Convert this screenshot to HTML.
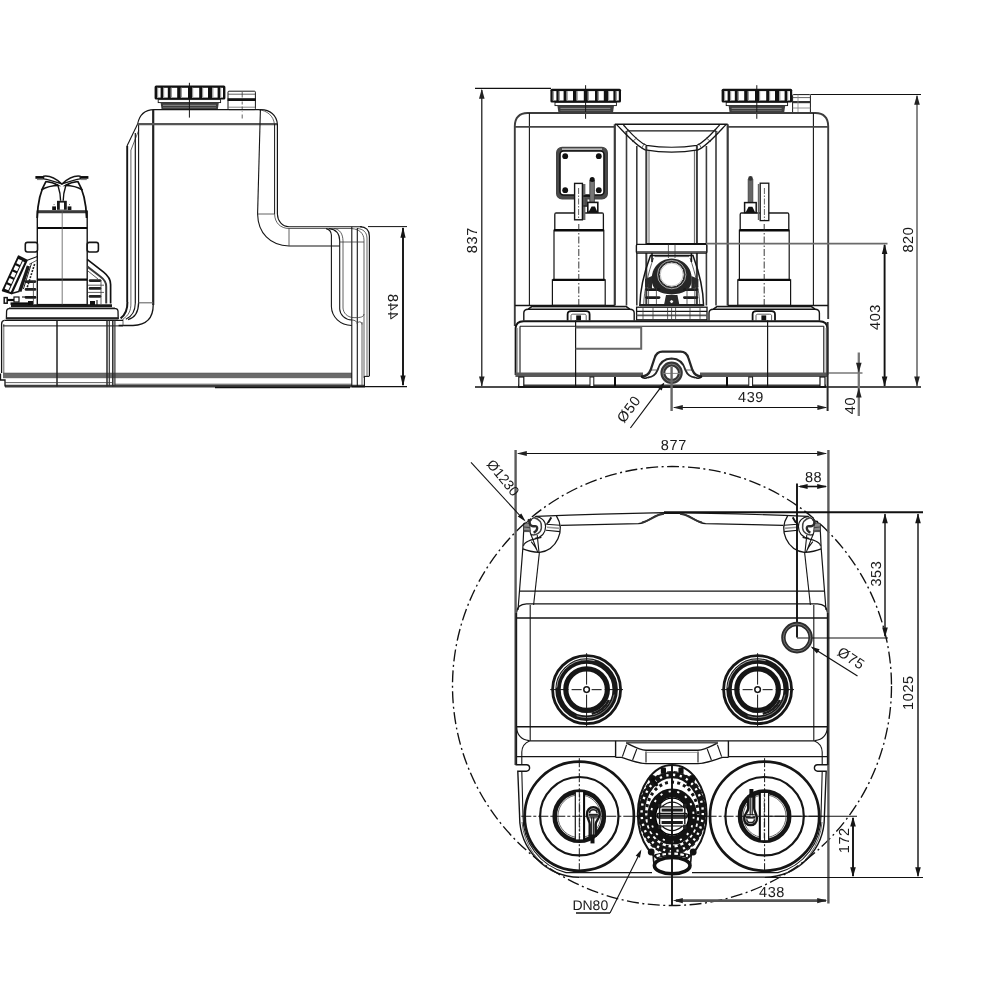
<!DOCTYPE html>
<html><head><meta charset="utf-8"><title>Dimension drawing</title>
<style>
html,body{margin:0;padding:0;background:#fff;}
body{width:1000px;height:1000px;overflow:hidden;font-family:"Liberation Sans",sans-serif;}
svg{display:block;filter:grayscale(1);}
.k{stroke:#151515;stroke-width:1.1;fill:none;}
.t{stroke:#3a3a3a;stroke-width:0.8;fill:none;}
.b{stroke:#0a0a0a;stroke-width:2;fill:none;}
.m{stroke:#111;stroke-width:1.5;fill:none;}
.g{stroke:#5e5e5e;stroke-width:2.2;fill:none;}
.gl{stroke:#777;stroke-width:1.2;fill:none;}
.d{stroke:#111;stroke-width:1.1;fill:none;}
.cl{stroke:#222;stroke-width:0.9;fill:none;stroke-dasharray:7 2 1.5 2;}
.w{fill:#fff;stroke:#151515;stroke-width:1.1;}
.f{fill:#111;stroke:none;}
text{font-family:"Liberation Sans",sans-serif;font-size:14.5px;fill:#1a1a1a;letter-spacing:0.6px;text-rendering:geometricPrecision;}
</style></head><body>
<svg width="1000" height="1000" viewBox="0 0 1000 1000">
<rect width="1000" height="1000" fill="#fff"/>
<g id="side">
<rect class="f" x="3" y="373.2" width="349" height="5" rx="0" style="fill:#6a6a6a"/>
<line class="t" x1="3" y1="373.2" x2="352" y2="373.2" style="stroke:#444;stroke-width:0.8"/>
<line class="b" x1="5" y1="386.2" x2="365" y2="386.2" style="stroke-width:2.8;stroke:#3c3c3c"/>
<line class="t" x1="115" y1="384.2" x2="352" y2="384.2" />
<line class="m" x1="215" y1="387.6" x2="350" y2="387.6" />
<rect class="f" x="154.6" y="85.4" width="70.8" height="14.2" rx="1.5" />
<rect x="157" y="87.8" width="3.6" height="9.8" fill="#fff"/>
<rect x="157" y="87.8" width="1.2" height="9.8" fill="#999"/>
<rect x="163" y="87.8" width="4.8" height="9.8" fill="#fff"/>
<rect x="163" y="87.8" width="1.2" height="9.8" fill="#999"/>
<rect x="170.8" y="87.8" width="6.4" height="9.8" fill="#fff"/>
<rect x="170.8" y="87.8" width="1.2" height="9.8" fill="#999"/>
<rect x="180.8" y="87.8" width="7.2" height="9.8" fill="#fff"/>
<rect x="180.8" y="87.8" width="1.2" height="9.8" fill="#999"/>
<rect x="192" y="87.8" width="7.2" height="9.8" fill="#fff"/>
<rect x="192" y="87.8" width="1.2" height="9.8" fill="#999"/>
<rect x="202" y="87.8" width="6.0" height="9.8" fill="#fff"/>
<rect x="202" y="87.8" width="1.2" height="9.8" fill="#999"/>
<rect x="212.2" y="87.8" width="5.4" height="9.8" fill="#fff"/>
<rect x="212.2" y="87.8" width="1.2" height="9.8" fill="#999"/>
<rect x="220" y="87.8" width="3.0" height="9.8" fill="#fff"/>
<rect x="220" y="87.8" width="1.2" height="9.8" fill="#999"/>
<rect class="w" x="158.2" y="99.6" width="62.4" height="3" rx="0" style="stroke-width:0.9"/>
<path d="M160.6,102.8 L218.8,102.8 L217.8,109.4 L161.6,109.4 Z" fill="#3c3c3c"/>
<line class="gl" x1="163" y1="105.3" x2="216" y2="105.3" style="stroke:#9a9a9a;stroke-width:0.9"/>
<line class="gl" x1="163" y1="107.6" x2="216" y2="107.6" style="stroke:#777;stroke-width:0.7"/>
<line class="k" x1="189.4" y1="82.8" x2="189.4" y2="117.6" style="stroke-width:1"/>
<rect class="w" x="228" y="91.2" width="27.4" height="18.4" rx="1" style="stroke-width:1"/>
<line class="t" x1="228" y1="94.2" x2="255.4" y2="94.2" />
<rect class="f" x="227.6" y="98.2" width="28.2" height="2.8" rx="0" />
<line class="t" x1="228" y1="107.2" x2="255.4" y2="107.2" style="stroke:#666"/>
<line class="t" x1="242.2" y1="92" x2="242.2" y2="97.5" />
<line class="t" x1="242.2" y1="101.5" x2="242.2" y2="112" stroke-dasharray="3 2"/>
<line class="t" x1="242.2" y1="114.5" x2="242.2" y2="118.5" />
<line class="k" x1="153" y1="109.6" x2="261" y2="109.6" style="stroke-width:1.3"/>
<path class="k" d="M154,109.6 C145,109.8 139.5,114 137.6,124" />
<path class="k" d="M137.6,124 L127,146" />
<path class="t" d="M138.8,130 L131,150" />
<line class="k" x1="127.2" y1="146" x2="127.2" y2="302" style="stroke-width:1.9"/>
<line class="t" x1="130.9" y1="150" x2="130.9" y2="303" />
<line class="k" x1="135.3" y1="133" x2="135.3" y2="303" style="stroke-width:1.2"/>
<line class="k" x1="138.6" y1="124" x2="138.6" y2="303" />
<line class="k" x1="153.2" y1="109.6" x2="153.2" y2="305" style="stroke-width:2.2;stroke:#222"/>
<line class="g" x1="137.6" y1="124.2" x2="277" y2="124.2" style="stroke-width:2.3;stroke:#555"/>
<path class="k" d="M261,109.6 C270,109.8 276.5,115 277.4,124" />
<path class="t" d="M259,109.8 C267,110.5 273.6,116 274.4,124" />
<line class="k" x1="277.4" y1="124" x2="277.4" y2="214" style="stroke-width:1.2"/>
<line class="k" x1="274.6" y1="124" x2="274.6" y2="214" style="stroke-width:1"/>
<path class="k" d="M260.4,109.6 L257.6,214" />
<line class="t" x1="257.6" y1="214" x2="274.6" y2="214" />
<path class="k" d="M277.4,214 C277.6,221 282,226.4 289,226.7 L362,226.7" />
<path class="t" d="M274.6,214 C274.8,223 280.5,228.3 289,228.5 L352,228.5" />
<path class="k" d="M257.6,214 C258,233 270,245.6 289,246 L339.7,246" />
<line class="t" x1="289" y1="228.5" x2="289" y2="246" />
<path class="k" d="M360,226.7 C366,226.9 369.2,229.5 369.4,236 L369.4,376" style="stroke-width:1.2"/>
<path class="t" d="M357.3,228.5 C363,229 366.8,232 367,238 L367,376" />
<path class="t" d="M352,228.6 C359,229.2 363.8,233 364,240 L364,378" />
<line class="k" x1="351.8" y1="226.7" x2="351.8" y2="386.6" />
<line class="k" x1="357.3" y1="228" x2="357.3" y2="386.6" />
<line class="t" x1="362" y1="322" x2="362" y2="386.6" />
<line class="k" x1="364.4" y1="376" x2="364.4" y2="386.6" />
<path class="k" d="M364.4,376.4 L369.4,376.4" />
<path class="k" d="M329,228.6 C336,229.2 339.5,233.4 339.7,240.8 L339.7,309 C340,315 345,319.6 351.8,320" />
<path class="t" d="M334,228.6 C340,229.2 342.8,234 343,240.8 L343,308 C343.4,313 347,317 353,317.6" />
<path class="k" d="M326,228.6 C329.6,229.4 331.2,231.6 331.4,235 L331.4,306.8 C331.8,317 340,325 351.8,325.5" />
<line class="t" x1="339.7" y1="242" x2="364" y2="242" />
<path class="t" d="M351.8,320 C355,320 357.3,321.5 357.3,324" />
<path class="t" d="M357.3,324 C357.5,321 362,321 362,324.5" />
<path class="t" d="M353,317.6 C358,317.6 363.6,318 364,314" />
<path class="k" d="M153.2,305 C153.2,318 146,325 133,325.5 L118.6,325.5" style="stroke-width:1.3"/>
<path class="k" d="M127.4,302 C127.6,310 125,315 120.6,318.4" style="stroke-width:2"/>
<path class="t" d="M130.9,303 C131.2,311 128,316 123.2,318.8" />
<path class="k" d="M135.3,303 C135.2,312 131,317 125.8,319.2" />
<path class="k" d="M138.6,303 C138.4,313 134,318 128,319.6" style="stroke-width:1.3"/>
<line class="gl" x1="138.6" y1="302.8" x2="153.2" y2="302.8" style="stroke:#666;stroke-width:1.1"/>
<line class="t" x1="123" y1="319" x2="123" y2="325.7" />
<path class="k" d="M4.5,320.4 L123,320.4" style="stroke-width:1.3"/>
<path class="k" d="M4.5,320.4 C2.6,320.6 1.6,321.8 1.6,324 L1.6,373" style="stroke-width:1.3"/>
<line class="t" x1="3.8" y1="324" x2="3.8" y2="373" />
<line class="k" x1="57" y1="320.4" x2="57" y2="386.6" style="stroke-width:1.5;stroke:#222"/>
<line class="k" x1="3" y1="325.9" x2="123" y2="325.9" style="stroke-width:1"/>
<line class="k" x1="107" y1="320.4" x2="107" y2="386.6" style="stroke-width:1.5;stroke:#2a2a2a"/>
<line class="k" x1="109.3" y1="320.4" x2="109.3" y2="386.6" style="stroke-width:1.2;stroke:#333"/>
<line class="k" x1="112.8" y1="320.4" x2="112.8" y2="386.6" style="stroke-width:1.5;stroke:#2a2a2a"/>
<line class="k" x1="114.9" y1="320.4" x2="114.9" y2="386.6" style="stroke-width:1.2;stroke:#333"/>
<path class="k" d="M0.5,373.6 L0.5,380 L5,380 L5,386.6" style="stroke-width:1.3"/>
<line class="t" x1="5" y1="382.6" x2="113" y2="382.6" />
<path class="w" d="M6.4,318.4 L6.6,311 C6.8,309.4 7.6,308.6 9,308.6 L115.6,308.6 C117,308.6 117.8,309.4 118,311 L118.2,318.4 Z" style="stroke-width:1.3"/>
<line class="b" x1="6.2" y1="318.4" x2="118.4" y2="318.4" style="stroke-width:2.2;stroke:#222"/>
<line class="b" x1="11" y1="305.6" x2="112" y2="305.6" style="stroke-width:2.6;stroke:#1a1a1a"/>
<line class="t" x1="9" y1="307.8" x2="115" y2="307.8" />
<rect class="w" x="37.3" y="211.2" width="49.9" height="93.4" rx="0" style="stroke-width:1.4"/>
<line class="g" x1="37.3" y1="211.9" x2="87.2" y2="211.9" style="stroke-width:2.8;stroke:#3a3a3a"/>
<line class="b" x1="37.3" y1="228" x2="87.2" y2="228" style="stroke-width:2"/>
<line class="b" x1="37.3" y1="279.6" x2="87.2" y2="279.6" style="stroke-width:2.4"/>
<line class="t" x1="62.2" y1="211" x2="62.2" y2="304.6" style="stroke:#555"/>
<path class="m" d="M37.2,218 C37.6,205 39.5,192 46.0,181.4" style="stroke-width:1.8"/>
<line class="b" x1="35.4" y1="177.4" x2="44.4" y2="177.4" style="stroke-width:2.7;stroke-linecap:butt"/>
<line class="t" x1="37" y1="179.6" x2="43" y2="179.6" style="stroke:#777;stroke-width:1"/>
<path class="w" d="M43.6,176.2 C49.0,175.4 56.0,178.6 61.9,184 C57.0,182.4 50.0,179.8 43.6,178.9 Z" style="stroke-width:1.4;stroke-linejoin:round"/>
<path class="m" d="M45.6,181.6 C50.0,181.8 55.0,183.4 58.6,185.6 C52.0,185.6 45.6,187.4 41.2,190 " style="stroke-width:1.5"/>
<path class="m" d="M58.0,186 C59.0,189 60.4,192 60.6,200.8" style="stroke-width:1.4"/>
<path class="m" d="M86.6,218 C86.2,205 84.3,192 77.8,181.4" style="stroke-width:1.8"/>
<line class="b" x1="88.4" y1="177.4" x2="79.4" y2="177.4" style="stroke-width:2.7;stroke-linecap:butt"/>
<line class="t" x1="86.8" y1="179.6" x2="80.8" y2="179.6" style="stroke:#777;stroke-width:1"/>
<path class="w" d="M80.2,176.2 C74.8,175.4 67.8,178.6 61.9,184 C66.8,182.4 73.8,179.8 80.2,178.9 Z" style="stroke-width:1.4;stroke-linejoin:round"/>
<path class="m" d="M78.2,181.6 C73.8,181.8 68.8,183.4 65.2,185.6 C71.8,185.6 78.2,187.4 82.6,190 " style="stroke-width:1.5"/>
<path class="m" d="M65.8,186 C64.8,189 63.4,192 63.2,200.8" style="stroke-width:1.4"/>
<rect class="f" x="57" y="200.8" width="9.8" height="9" rx="0" style="fill:#1a1a1a"/>
<rect class="f" x="59.8" y="202.6" width="4.2" height="7" rx="0" style="fill:#fff"/>
<rect class="f" x="52.2" y="206.4" width="3.8" height="3.6" rx="0" />
<rect class="f" x="67.6" y="206.4" width="3.8" height="3.6" rx="0" />
<line class="t" x1="53.6" y1="204.6" x2="54.6" y2="204.6" />
<line class="t" x1="69" y1="204.6" x2="70" y2="204.6" />
<rect class="w" x="25.3" y="242.4" width="12.2" height="9.6" rx="2.2" style="stroke-width:1.6"/>
<rect class="w" x="87.2" y="242.4" width="11.2" height="9.6" rx="2.2" style="stroke-width:1.6"/>
<path class="m" d="M87.2,259.4 L103.6,272.2 C108.4,276 110.6,279.6 110.6,284.4 L110.6,303.6" style="stroke-width:1.7"/>
<path class="m" d="M87.4,266.6 L100.6,276.8 C104.6,279.8 106.2,282.6 106.2,286.4 L106.2,303.6" style="stroke-width:2;stroke:#3a3a3a"/>
<path class="t" d="M87.4,270.6 L98,279" />
<line class="b" x1="90" y1="280.6" x2="100" y2="280.6" style="stroke-width:2.6;stroke-linecap:round;stroke:#222"/>
<line class="b" x1="26" y1="281.6" x2="35" y2="281.6" style="stroke-width:2.6;stroke-linecap:round;stroke:#222"/>
<line class="b" x1="90" y1="288.4" x2="100" y2="288.4" style="stroke-width:2.6;stroke-linecap:round;stroke:#222"/>
<line class="b" x1="26" y1="289.4" x2="35" y2="289.4" style="stroke-width:2.6;stroke-linecap:round;stroke:#222"/>
<line class="b" x1="90" y1="296.4" x2="100" y2="296.4" style="stroke-width:2.6;stroke-linecap:round;stroke:#222"/>
<line class="b" x1="26" y1="297.4" x2="35" y2="297.4" style="stroke-width:2.6;stroke-linecap:round;stroke:#222"/>
<line class="t" x1="88" y1="285.2" x2="104" y2="285.2" />
<line class="t" x1="88" y1="292.4" x2="104" y2="292.4" />
<line class="t" x1="101" y1="280" x2="101" y2="304" />
<line class="k" x1="97" y1="300" x2="97" y2="305" />
<rect class="f" x="90" y="301" width="5" height="4" rx="0" />
<rect class="f" x="28" y="301" width="5" height="4" rx="0" />
<line class="t" x1="33.4" y1="281" x2="33.4" y2="304" />
<path class="w" d="M18.6,256.3 L26.6,260.5 L11.6,293.4 L2.8,290.6 Z" style="stroke-width:2;stroke-linejoin:round;stroke:#111;fill:#111"/>
<rect x="17.24" y="259.52" width="4" height="4.8" fill="#fff" transform="rotate(24.7 19.24 261.82)"/>
<rect x="14.31" y="265.88" width="4" height="4.8" fill="#fff" transform="rotate(24.7 16.31 268.18)"/>
<rect x="11.39" y="272.24" width="4" height="4.8" fill="#fff" transform="rotate(24.7 13.39 274.54)"/>
<rect x="8.46" y="278.60" width="4" height="4.8" fill="#fff" transform="rotate(24.7 10.46 280.90)"/>
<rect x="5.53" y="284.95" width="4" height="4.8" fill="#fff" transform="rotate(24.7 7.53 287.25)"/>
<line x1="23.66" y1="261.78" x2="9.90" y2="291.65" stroke="#fff" stroke-width="2"/>
<line class="b" x1="28.4" y1="266" x2="19.8" y2="291.4" style="stroke-width:3.4;stroke:#1a1a1a"/>
<line class="t" x1="31.6" y1="263" x2="23.4" y2="289" style="stroke:#222;stroke-width:1"/>
<line class="t" x1="34.6" y1="264" x2="26.4" y2="290" stroke-dasharray="2 1.2" style="stroke:#222;stroke-width:1.6"/>
<line class="k" x1="26.6" y1="260.5" x2="37.4" y2="256.6" />
<line class="t" x1="29" y1="264.4" x2="37.4" y2="260" />
<path class="k" d="M11.6,293.4 L19.6,291.3" style="stroke-width:1.6"/>
<rect class="w" x="4.2" y="297.6" width="3" height="5.6" rx="0" style="stroke-width:1.5"/>
<rect class="w" x="14" y="297" width="5" height="5" rx="0" style="stroke-width:1.2"/>
<line class="b" x1="7.2" y1="300" x2="14" y2="300" style="stroke-width:2.2"/>
<line class="b" x1="10.5" y1="303.6" x2="30" y2="303.6" style="stroke-width:2.4"/>
<line class="k" x1="22" y1="297" x2="36" y2="297" />
</g>
<g id="front">
<line class="g" x1="518" y1="386.2" x2="826" y2="386.2" style="stroke-width:3.4;stroke:#3a3a3a"/>
<rect class="f" x="550.4" y="88.8" width="70.6" height="13.6" rx="1.5" />
<rect x="552.8" y="91.1" width="3.6" height="9.4" fill="#fff"/>
<rect x="552.8" y="91.1" width="1.2" height="9.4" fill="#999"/>
<rect x="558.8" y="91.1" width="4.8" height="9.4" fill="#fff"/>
<rect x="558.8" y="91.1" width="1.2" height="9.4" fill="#999"/>
<rect x="566.6" y="91.1" width="6.4" height="9.4" fill="#fff"/>
<rect x="566.6" y="91.1" width="1.2" height="9.4" fill="#999"/>
<rect x="576.6" y="91.1" width="7.2" height="9.4" fill="#fff"/>
<rect x="576.6" y="91.1" width="1.2" height="9.4" fill="#999"/>
<rect x="587.8" y="91.1" width="7.2" height="9.4" fill="#fff"/>
<rect x="587.8" y="91.1" width="1.2" height="9.4" fill="#999"/>
<rect x="597.8" y="91.1" width="6.0" height="9.4" fill="#fff"/>
<rect x="597.8" y="91.1" width="1.2" height="9.4" fill="#999"/>
<rect x="608.0" y="91.1" width="5.4" height="9.4" fill="#fff"/>
<rect x="608.0" y="91.1" width="1.2" height="9.4" fill="#999"/>
<rect x="615.8" y="91.1" width="3.0" height="9.4" fill="#fff"/>
<rect x="615.8" y="91.1" width="1.2" height="9.4" fill="#999"/>
<rect class="w" x="555.0" y="102.39999999999999" width="61.4" height="3.2" rx="0" style="stroke-width:0.9"/>
<path d="M557.4,105.8 L614.0,105.8 L613.0,112.6 L558.4,112.6 Z" fill="#3c3c3c"/>
<line class="gl" x1="560.4" y1="108.4" x2="610.4" y2="108.4" style="stroke:#9a9a9a;stroke-width:0.9"/>
<line class="gl" x1="560.4" y1="110.6" x2="610.4" y2="110.6" style="stroke:#777;stroke-width:0.7"/>
<line class="k" x1="585.6" y1="85.2" x2="585.6" y2="118.8" style="stroke-width:1"/>
<rect class="f" x="721.6" y="88.8" width="70.6" height="13.6" rx="1.5" />
<rect x="724.0" y="91.1" width="3.6" height="9.4" fill="#fff"/>
<rect x="724.0" y="91.1" width="1.2" height="9.4" fill="#999"/>
<rect x="730.0" y="91.1" width="4.8" height="9.4" fill="#fff"/>
<rect x="730.0" y="91.1" width="1.2" height="9.4" fill="#999"/>
<rect x="737.8" y="91.1" width="6.4" height="9.4" fill="#fff"/>
<rect x="737.8" y="91.1" width="1.2" height="9.4" fill="#999"/>
<rect x="747.8" y="91.1" width="7.2" height="9.4" fill="#fff"/>
<rect x="747.8" y="91.1" width="1.2" height="9.4" fill="#999"/>
<rect x="759.0" y="91.1" width="7.2" height="9.4" fill="#fff"/>
<rect x="759.0" y="91.1" width="1.2" height="9.4" fill="#999"/>
<rect x="769.0" y="91.1" width="6.0" height="9.4" fill="#fff"/>
<rect x="769.0" y="91.1" width="1.2" height="9.4" fill="#999"/>
<rect x="779.2" y="91.1" width="5.4" height="9.4" fill="#fff"/>
<rect x="779.2" y="91.1" width="1.2" height="9.4" fill="#999"/>
<rect x="787.0" y="91.1" width="3.0" height="9.4" fill="#fff"/>
<rect x="787.0" y="91.1" width="1.2" height="9.4" fill="#999"/>
<rect class="w" x="726.2" y="102.39999999999999" width="61.4" height="3.2" rx="0" style="stroke-width:0.9"/>
<path d="M728.6,105.8 L785.2,105.8 L784.2,112.6 L729.6,112.6 Z" fill="#3c3c3c"/>
<line class="gl" x1="731.6" y1="108.4" x2="781.6" y2="108.4" style="stroke:#9a9a9a;stroke-width:0.9"/>
<line class="gl" x1="731.6" y1="110.6" x2="781.6" y2="110.6" style="stroke:#777;stroke-width:0.7"/>
<line class="k" x1="756.8000000000001" y1="85.2" x2="756.8000000000001" y2="118.8" style="stroke-width:1"/>
<rect class="w" x="792.6" y="94.6" width="17.8" height="18.2" rx="0.8" style="stroke-width:1"/>
<line class="t" x1="792.6" y1="97.6" x2="810.4" y2="97.6" />
<rect class="f" x="792.4" y="101" width="18.2" height="2.2" rx="0" style="fill:#333"/>
<line class="t" x1="792.6" y1="108" x2="810.4" y2="108" style="stroke:#777"/>
<line class="t" x1="798" y1="94.6" x2="798" y2="112.6" style="stroke:#888"/>
<path class="k" d="M514.8,326 L514.8,126 C515,118 519.5,113.2 527.6,113 L815.4,113 C823.5,113.2 828,118 828.2,126 L828.2,319" style="stroke-width:1.9;stroke:#3c3c3c"/>
<line class="k" x1="529.4" y1="113" x2="529.4" y2="306" />
<line class="k" x1="813.4" y1="113" x2="813.4" y2="306" />
<line class="k" x1="514.6" y1="126.8" x2="615" y2="126.8" style="stroke-width:1.7;stroke:#444"/>
<line class="k" x1="727.6" y1="126.8" x2="828.4" y2="126.8" style="stroke-width:1.7;stroke:#444"/>
<line class="k" x1="614.8" y1="124.3" x2="614.8" y2="305.5" style="stroke-width:2.2;stroke:#3a3a3a"/>
<line class="k" x1="626.5" y1="131" x2="626.5" y2="305.5" style="stroke-width:1.6;stroke:#3a3a3a"/>
<line class="k" x1="636.8" y1="146" x2="636.8" y2="305.5" style="stroke-width:1.6;stroke:#3a3a3a"/>
<line class="k" x1="646.3" y1="146" x2="646.3" y2="305.5" style="stroke-width:2;stroke:#3a3a3a"/>
<line class="k" x1="696.9" y1="146" x2="696.9" y2="305.5" style="stroke-width:2;stroke:#3a3a3a"/>
<line class="k" x1="706.4" y1="146" x2="706.4" y2="305.5" style="stroke-width:1.6;stroke:#3a3a3a"/>
<line class="k" x1="716" y1="131" x2="716" y2="305.5" style="stroke-width:1.6;stroke:#3a3a3a"/>
<line class="k" x1="727.7" y1="124.3" x2="727.7" y2="305.5" style="stroke-width:2.2;stroke:#3a3a3a"/>
<line class="t" x1="649" y1="150" x2="649" y2="244" />
<line class="t" x1="694.4" y1="150" x2="694.4" y2="244" />
<line class="k" x1="614.8" y1="124.3" x2="727.7" y2="124.3" style="stroke-width:1.6"/>
<line class="k" x1="627" y1="130.9" x2="716" y2="130.9" />
<path class="k" d="M616.6,124.6 C625,133 636,146 645.2,149.8 Q671.6,154.4 698,149.8 C707,146 718,133 726,124.6" style="stroke-width:1.3"/>
<path class="k" d="M623.4,125 C630,132 638,142 646.3,145.3 Q671.6,149.2 697,145.3 C705,142 713,132 719.6,125" style="stroke-width:1.2"/>
<line class="t" x1="624" y1="133" x2="629" y2="129.6" />
<line class="t" x1="632" y1="142" x2="637" y2="137.6" />
<line class="t" x1="641.6" y1="148.4" x2="644.4" y2="143.4" />
<line class="t" x1="719" y1="133" x2="714" y2="129.6" />
<line class="t" x1="711" y1="142" x2="706" y2="137.6" />
<line class="t" x1="701.6" y1="148.4" x2="698.8" y2="143.4" />
<rect class="w" x="636.4" y="244.4" width="70.4" height="8.6" rx="1" style="stroke-width:1.4"/>
<line class="gl" x1="637" y1="251.6" x2="706" y2="251.6" style="stroke:#666"/>
<line class="t" x1="668.4" y1="244.4" x2="668.4" y2="258" />
<line class="t" x1="675" y1="244.4" x2="675" y2="258" />
<path class="k" d="M639.8,306 C640,290 645,270 650.5,255.4 L693,255.4 C698.4,270 703.4,290 703.6,306" style="stroke-width:1.5"/>
<path class="t" d="M643.6,306 C644,290 648.5,272 653.5,258" />
<path class="t" d="M699.8,306 C699.4,290 695,272 690,258" />
<line class="k" x1="652" y1="253" x2="652" y2="262" style="stroke-width:1.6"/>
<line class="k" x1="691.4" y1="253" x2="691.4" y2="262" style="stroke-width:1.6"/>
<line class="t" x1="654.6" y1="256.6" x2="689" y2="256.6" />
<path class="f" d="M652,283 C650,270 658,259 671.7,258.6 C685.4,259 693.4,270 691.4,283 C690,290 683,294 671.7,294.4 C660.4,294 653.4,290 652,283 Z" style="fill:#262626"/>
<circle class="w" cx="671.7" cy="274.6" r="12.6" style="stroke:#222;stroke-width:1"/>
<circle class="k" cx="671.7" cy="274.6" r="14.2" style="stroke:#ddd;stroke-width:0.7"/>
<circle class="t" cx="671.7" cy="274.6" r="11.4" style="stroke:#999;stroke-width:0.6"/>
<path class="f" d="M645,279 L652,276 L652,289 L645,287 Z" style="fill:#2a2a2a"/>
<path class="f" d="M698.4,279 L691.4,276 L691.4,289 L698.4,287 Z" style="fill:#2a2a2a"/>
<line class="b" x1="646.6" y1="289.6" x2="659" y2="289.6" style="stroke-width:2.8;stroke-linecap:round;stroke:#1c1c1c"/>
<line class="b" x1="684.4" y1="289.6" x2="696.8" y2="289.6" style="stroke-width:2.8;stroke-linecap:round;stroke:#1c1c1c"/>
<line class="b" x1="646.6" y1="297.6" x2="659" y2="297.6" style="stroke-width:2.8;stroke-linecap:round;stroke:#1c1c1c"/>
<line class="b" x1="684.4" y1="297.6" x2="696.8" y2="297.6" style="stroke-width:2.8;stroke-linecap:round;stroke:#1c1c1c"/>
<line class="t" x1="648.6" y1="284" x2="648.6" y2="305" />
<line class="t" x1="656.4" y1="288" x2="656.4" y2="305" />
<line class="t" x1="687" y1="288" x2="687" y2="305" />
<line class="t" x1="694.8" y1="284" x2="694.8" y2="305" />
<path class="f" d="M664,305 L666,295 L677.4,295 L679.4,305 Z" style="fill:#2a2a2a"/>
<circle class="w" cx="671.6" cy="301.6" r="1.9" style="stroke-width:0.8"/>
<line class="b" x1="640" y1="305.2" x2="703.4" y2="305.2" style="stroke-width:2.2;stroke:#222"/>
<rect class="w" x="636.6" y="307.2" width="70.4" height="12.6" rx="0" style="stroke-width:1.3"/>
<line class="k" x1="636.6" y1="311.4" x2="707" y2="311.4" />
<line class="g" x1="636.6" y1="315.4" x2="707" y2="315.4" style="stroke-width:1.8;stroke:#555"/>
<line class="t" x1="643" y1="307.2" x2="643" y2="319.8" />
<line class="t" x1="653" y1="307.2" x2="653" y2="319.8" />
<line class="t" x1="667.6" y1="307.2" x2="667.6" y2="319.8" />
<line class="t" x1="671.6" y1="307.2" x2="671.6" y2="319.8" />
<line class="t" x1="675.6" y1="307.2" x2="675.6" y2="319.8" />
<line class="t" x1="690" y1="307.2" x2="690" y2="319.8" />
<line class="t" x1="700" y1="307.2" x2="700" y2="319.8" />
<line class="k" x1="515" y1="305.4" x2="614.8" y2="305.4" style="stroke-width:1.5"/>
<line class="k" x1="727.7" y1="305.4" x2="828" y2="305.4" style="stroke-width:1.5"/>
<rect class="w" x="554.8" y="212.9" width="48.6" height="17.6" rx="1.5" style="stroke-width:1.3"/>
<line class="gl" x1="555.8" y1="213.2" x2="602.4" y2="213.2" style="stroke:#555;stroke-width:1.6"/>
<rect class="w" x="554.0" y="230.2" width="49.8" height="49.6" rx="0" style="stroke-width:1.2"/>
<rect class="w" x="552.4" y="279.8" width="52.8" height="25.4" rx="0" style="stroke-width:1.2"/>
<line class="b" x1="554.0" y1="230.2" x2="603.8" y2="230.2" style="stroke-width:2.4"/>
<line class="b" x1="552.8" y1="279.8" x2="604.8" y2="279.8" style="stroke-width:2.2"/>
<line class="cl" x1="578.8" y1="224" x2="578.8" y2="305" />
<rect class="w" x="740.2" y="212.9" width="48.6" height="17.6" rx="1.5" style="stroke-width:1.3"/>
<line class="gl" x1="741.2" y1="213.2" x2="787.8000000000001" y2="213.2" style="stroke:#555;stroke-width:1.6"/>
<rect class="w" x="739.4000000000001" y="230.2" width="49.8" height="49.6" rx="0" style="stroke-width:1.2"/>
<rect class="w" x="737.8000000000001" y="279.8" width="52.8" height="25.4" rx="0" style="stroke-width:1.2"/>
<line class="b" x1="739.4000000000001" y1="230.2" x2="789.2" y2="230.2" style="stroke-width:2.4"/>
<line class="b" x1="738.2" y1="279.8" x2="790.2" y2="279.8" style="stroke-width:2.2"/>
<line class="cl" x1="764.2" y1="224" x2="764.2" y2="305" />
<rect class="k" x="556.6" y="147.4" width="50.8" height="51.6" rx="5.5" style="stroke-width:1.2;stroke:#444;fill:#4a4a4a"/>
<rect class="w" x="560" y="151" width="44" height="44" rx="3.5" style="stroke-width:1.6;stroke:#111"/>
<line class="gl" x1="562" y1="149.2" x2="602" y2="149.2" style="stroke:#ddd;stroke-width:1.2"/>
<circle class="f" cx="565.2" cy="156.2" r="2.9" />
<circle class="f" cx="598.8" cy="156.2" r="2.9" />
<circle class="f" cx="565.2" cy="190.2" r="2.9" />
<circle class="f" cx="598.8" cy="190.2" r="2.9" />
<rect class="f" x="583" y="184" width="2.4" height="36" rx="0" style="fill:#666"/>
<rect class="f" x="583" y="196" width="4.6" height="10.6" rx="0" style="fill:#555"/>
<rect class="w" x="574.6" y="183.4" width="7.8" height="36.4" rx="0" style="stroke-width:1.4"/>
<line class="t" x1="578.6" y1="188" x2="578.6" y2="219" stroke-dasharray="6 1.5 1.5 1.5"/>
<rect class="f" x="589.8" y="180" width="4.6" height="22" rx="0" style="fill:#777"/>
<line class="t" x1="589.8" y1="180" x2="589.8" y2="202" />
<line class="t" x1="594.4" y1="180" x2="594.4" y2="202" />
<circle class="f" cx="592.2" cy="179.6" r="2.5" />
<rect class="w" x="587.8" y="202.4" width="10" height="9.8" rx="0" style="stroke-width:1.6"/>
<path class="f" d="M588.6,212 L591.6,206.6 L595,206.6 L597.4,212 Z" />
<line class="b" x1="583.4" y1="196" x2="590" y2="196" style="stroke-width:1.6"/>
<line class="k" x1="583.4" y1="206" x2="588" y2="206" />
<path class="t" d="M586,198 L586,206" />
<rect class="w" x="760.2" y="183.2" width="8.6" height="37.4" rx="0" style="stroke-width:1.3"/>
<line class="gl" x1="758.6" y1="184" x2="758.6" y2="220" style="stroke:#666;stroke-width:1.6"/>
<line class="t" x1="764.4" y1="188" x2="764.4" y2="220" stroke-dasharray="6 1.5 1.5 1.5"/>
<rect class="f" x="748.2" y="178" width="4.6" height="25" rx="1.6" style="fill:#666"/>
<line class="t" x1="748.2" y1="179" x2="748.2" y2="203" />
<line class="t" x1="752.8" y1="179" x2="752.8" y2="203" />
<circle class="f" cx="750.5" cy="178.4" r="2.3" style="fill:#333"/>
<rect class="w" x="744.6" y="202.6" width="11.6" height="10" rx="0" style="stroke-width:1.5"/>
<path class="f" d="M745.6,212.4 L748.6,206.8 L752.4,206.8 L755.2,212.4 Z" />
<path class="k" d="M523.8,320.4 L523.8,313 C523.8,310.6 525.5999999999999,309.2 528.1999999999999,309.2 L629.8000000000001,309.2 C632.4000000000001,309.2 634.2,310.6 634.2,313 L634.2,320.4" style="stroke-width:1.4"/>
<path class="k" d="M528.1999999999999,309.2 L531.8,306.6 L626.2,306.6 L629.8000000000001,309.2" style="stroke-width:1.5"/>
<line class="gl" x1="532.8" y1="308" x2="625.2" y2="308" style="stroke:#888;stroke-width:0.9"/>
<path class="k" d="M709,320.4 L709,313 C709,310.6 710.8,309.2 713.4,309.2 L815.0,309.2 C817.6,309.2 819.4,310.6 819.4,313 L819.4,320.4" style="stroke-width:1.4"/>
<path class="k" d="M713.4,309.2 L717,306.6 L811.4,306.6 L815.0,309.2" style="stroke-width:1.5"/>
<line class="gl" x1="718" y1="308" x2="810.4" y2="308" style="stroke:#888;stroke-width:0.9"/>
<path class="m" d="M567.6,320.4 L567.6,314.4 C567.6,312 569.0,311.2 571.2,311.2 L586.0,311.2 C588.2,311.2 589.6,312 589.6,314.4 L589.6,320.4" style="stroke-width:1.8"/>
<path class="t" d="M571.0,320.4 L571.0,315.6 C571.0,314.4 572.2,314.2 573.2,314.2 L584.0,314.2 C585.0,314.2 586.2,314.4 586.2,315.6 L586.2,320.4" />
<rect class="f" x="576.2" y="315.4" width="4.8" height="5" rx="0" />
<path class="m" d="M752.6,320.4 L752.6,314.4 C752.6,312 754.0,311.2 756.2,311.2 L771.4,311.2 C773.6,311.2 775,312 775,314.4 L775,320.4" style="stroke-width:1.8"/>
<path class="t" d="M756.0,320.4 L756.0,315.6 C756.0,314.4 757.2,314.2 758.2,314.2 L769.4,314.2 C770.4,314.2 771.6,314.4 771.6,315.6 L771.6,320.4" />
<rect class="f" x="761.4" y="315.4" width="4.8" height="5" rx="0" />
<path class="k" d="M515.6,375 L515.6,328 C515.8,324 518.6,321.4 523.6,321.2 L819.4,321.2 C824.4,321.4 827.2,324 827.4,328 L827.4,375" style="stroke-width:1.9"/>
<line class="k" x1="520" y1="326.3" x2="636" y2="326.3" />
<line class="k" x1="707" y1="326.3" x2="823.8" y2="326.3" />
<line class="k" x1="636" y1="326.3" x2="707" y2="326.3" />
<line class="k" x1="520" y1="326.3" x2="520" y2="373" />
<line class="k" x1="823.8" y1="326.3" x2="823.8" y2="373" />
<line class="t" x1="517.6" y1="328" x2="517.6" y2="373" style="stroke:#888"/>
<line class="t" x1="826" y1="328" x2="826" y2="373" style="stroke:#888"/>
<line class="g" x1="515.4" y1="374.8" x2="643" y2="374.8" style="stroke-width:4.4;stroke:#585858"/>
<line class="g" x1="700" y1="374.8" x2="827.6" y2="374.8" style="stroke-width:4.4;stroke:#585858"/>
<rect class="w" x="518.8" y="377" width="5" height="9.6" rx="0" style="stroke-width:1.2"/>
<rect class="w" x="590" y="377" width="3.8" height="9.6" rx="0" style="stroke-width:1"/>
<line class="b" x1="615" y1="377" x2="615" y2="386.6" style="stroke-width:2"/>
<line class="b" x1="727" y1="377" x2="727" y2="386.6" style="stroke-width:2"/>
<rect class="w" x="748.8" y="377" width="3.8" height="9.6" rx="0" style="stroke-width:1"/>
<rect class="w" x="820" y="377" width="5" height="9.6" rx="0" style="stroke-width:1.2"/>
<line class="k" x1="575.6" y1="320.4" x2="575.6" y2="387" style="stroke-width:1.2"/>
<line class="k" x1="767.6" y1="320.4" x2="767.6" y2="387" style="stroke-width:1.2"/>
<path class="g" d="M575.6,327.6 L641.2,327.6 L641.2,348.8 L575.6,348.8" style="stroke-width:2;stroke:#666"/>
<path class="m" d="M641,376.4 C646,376.6 649,374 650.6,370 L654.6,358 C656,353.4 658.4,351.6 662.4,351.6 L680.6,351.6 C684.6,351.6 687,353.4 688.4,358 L692.4,370 C694,374 697,376.6 702,376.4" style="stroke-width:2.3;stroke:#262626"/>
<path class="m" d="M648,377.4 C653,377 656,374 657.6,370 C659.6,363 664,358.8 671.6,358.6 C679,358.8 683.4,363 685.4,370 C687,374 690,377 695,377.4" style="stroke-width:2;stroke:#262626"/>
<path class="m" d="M641,376.4 C643,378.4 646,378.4 648,377.4" />
<path class="m" d="M702,376.4 C700,378.4 697,378.4 695,377.4" />
<line class="t" x1="650.6" y1="370" x2="657.6" y2="370" />
<line class="t" x1="692.4" y1="370" x2="685.4" y2="370" />
<circle class="k" cx="671.6" cy="372.8" r="8.7" style="stroke:#353535;stroke-width:5;fill:#fff"/>
<circle class="k" cx="671.6" cy="372.8" r="8.7" style="stroke:#8a8a8a;stroke-width:0.8"/>
<line class="gl" x1="663.4" y1="373.4" x2="679.8" y2="373.4" style="stroke:#888;stroke-width:1"/>
</g>
<g id="plan">
<path class="k" d="M536,516.4 C580,514.6 630,513.2 664,512.6 C700,512.8 760,514.4 808,516.4" style="stroke-width:1.2"/>
<path class="k" d="M560.6,525.4 L638.4,523.6 C648,523 654,514 664,513.4 L680,513.4 C690,514 696,523 705.6,523.6 L783.4,525.4" style="stroke-width:1.3"/>
<path class="k" d="M642,522.6 C650,521 655,514.6 664,513.8" style="stroke-width:2;stroke:#333"/>
<path class="k" d="M702,522.6 C694,521 689,514.6 680,513.8" style="stroke-width:2;stroke:#333"/>
<path class="k" d="M556.4,515.8 A24,24 0 0 1 539.6,552.4 C533.0,552.0 527.0,550.6 522.8,548.8" style="stroke-width:1.3"/>
<path class="k" d="M524.0,524.0 L522.8,548.8 L518.0,610.0" style="stroke-width:1.2"/>
<path class="k" d="M539.4,552.4 L533.6,605.0" />
<path class="k" d="M524.0,524.0 L536.0,516.4" />
<path d="M523.6,523.4 L529.6,523.0 L530.4,531.6 L523.6,531.6 Z" fill="#8a8a8a" stroke="#333" stroke-width="0.8"/>
<path class="m" d="M531.4,519.0 C527.6,521.6 530.0,527.0 534.4,526.2 C538.4,525.4 538.0,531.0 533.6,532.6" style="stroke-width:2.4;stroke:#2a2a2a"/>
<path class="m" d="M533.6,517.6 C539.0,519.0 542.0,523.0 541.4,528.0 C540.8,533.0 536.0,536.0 530.6,534.6" style="stroke-width:1.5;stroke:#444"/>
<path class="k" d="M535.4,516.4 C541.0,517.0 545.4,520.6 545.6,526.6 C545.6,532.6 542.0,537.6 535.0,538.4" style="stroke-width:1.2"/>
<path class="t" d="M524.0,527.0 L530.0,527.6 M524.0,530.6 L531.0,531.0" style="stroke-width:1.2;stroke:#444"/>
<path class="k" d="M523.4,545.8 C524.6,541.6 530.0,540.0 541.4,537.4" style="stroke-width:1.3"/>
<path class="k" d="M530.0,532.0 L537.8,552.4 M537.2,535.0 L539.0,552.4 M531.2,541.6 C534.0,545.0 536.0,548.0 537.2,550.6" />
<path class="k" d="M546.8,524.0 L551.0,517.0 M548.4,523.0 L551.6,517.6 M546.2,524.2 L560.0,525.2 M546.0,530.2 L560.0,531.6" />
<path class="gl" d="M547.0,527.2 L560.0,528.4" style="stroke:#999;stroke-width:1.6"/>
<path class="k" d="M787.6,515.8 A24,24 0 0 0 804.4,552.4 C811.0,552.0 817.0,550.6 821.2,548.8" style="stroke-width:1.3"/>
<path class="k" d="M820.0,524.0 L821.2,548.8 L826.0,610.0" style="stroke-width:1.2"/>
<path class="k" d="M804.6,552.4 L810.4,605.0" />
<path class="k" d="M820.0,524.0 L808.0,516.4" />
<path d="M820.4,523.4 L814.4,523.0 L813.6,531.6 L820.4,531.6 Z" fill="#8a8a8a" stroke="#333" stroke-width="0.8"/>
<path class="m" d="M812.6,519.0 C816.4,521.6 814.0,527.0 809.6,526.2 C805.6,525.4 806.0,531.0 810.4,532.6" style="stroke-width:2.4;stroke:#2a2a2a"/>
<path class="m" d="M810.4,517.6 C805.0,519.0 802.0,523.0 802.6,528.0 C803.2,533.0 808.0,536.0 813.4,534.6" style="stroke-width:1.5;stroke:#444"/>
<path class="k" d="M808.6,516.4 C803.0,517.0 798.6,520.6 798.4,526.6 C798.4,532.6 802.0,537.6 809.0,538.4" style="stroke-width:1.2"/>
<path class="t" d="M820.0,527.0 L814.0,527.6 M820.0,530.6 L813.0,531.0" style="stroke-width:1.2;stroke:#444"/>
<path class="k" d="M820.6,545.8 C819.4,541.6 814.0,540.0 802.6,537.4" style="stroke-width:1.3"/>
<path class="k" d="M814.0,532.0 L806.2,552.4 M806.8,535.0 L805.0,552.4 M812.8,541.6 C810.0,545.0 808.0,548.0 806.8,550.6" />
<path class="k" d="M797.2,524.0 L793.0,517.0 M795.6,523.0 L792.4,517.6 M797.8,524.2 L784.0,525.2 M798.0,530.2 L784.0,531.6" />
<path class="gl" d="M797.0,527.2 L784.0,528.4" style="stroke:#999;stroke-width:1.6"/>
<line class="k" x1="519.8" y1="591.2" x2="824.2" y2="591.2" style="stroke-width:1.2"/>
<path class="k" d="M516.4,726.8 L516.4,613 C516.8,607 520.6,604 526.6,603.8 L817.4,603.8 C823.4,604 827.2,607 827.6,613 L827.6,726.8" style="stroke-width:1.3"/>
<line class="k" x1="530.2" y1="605" x2="530.2" y2="740.8" />
<line class="k" x1="813.8" y1="605" x2="813.8" y2="740.8" />
<line class="k" x1="516.6" y1="618" x2="827.4" y2="618" style="stroke-width:1.3"/>
<line class="k" x1="516.4" y1="726.8" x2="827.6" y2="726.8" style="stroke-width:1.5"/>
<path class="k" d="M516.6,727 C517,735 521,739.6 529,740.6" />
<path class="k" d="M827.4,727 C827,735 823,739.6 815,740.6" />
<line class="k" x1="529" y1="740.8" x2="815" y2="740.8" style="stroke-width:1.3"/>
<circle class="k" cx="586.6" cy="689.6" r="34" style="stroke-width:2.8;stroke:#161616"/>
<circle class="k" cx="586.6" cy="689.6" r="28.6" style="stroke-width:5.4;stroke:#181818"/>
<path class="k" d="M556.7,687.6 A30,30 0 0 1 594.6,660.7" style="stroke-width:0.7;stroke:#ddd"/>
<path class="k" d="M614.1,694.6 A28,28 0 0 1 576.6,715.8000000000001" style="stroke-width:0.6;stroke:#bbb"/>
<circle class="k" cx="586.6" cy="689.6" r="20.8" style="stroke-width:5.2;stroke:#161616"/>
<path class="k" d="M608.9,700.0 A24.6,24.6 0 0 1 591.7,713.7" style="stroke-width:2.6;stroke:#1c1c1c"/>
<circle class="k" cx="586.6" cy="689.6" r="2.8" style="stroke-width:1.5"/>
<line class="k" x1="550.2" y1="689.6" x2="568.6" y2="689.6" style="stroke-width:1"/>
<line class="k" x1="571.6" y1="689.6" x2="581.6" y2="689.6" style="stroke-width:1.2;stroke:#333"/>
<line class="k" x1="591.6" y1="689.6" x2="601.6" y2="689.6" style="stroke-width:1.2;stroke:#333"/>
<line class="k" x1="604.6" y1="689.6" x2="623.0" y2="689.6" style="stroke-width:1"/>
<line class="k" x1="586.6" y1="653.2" x2="586.6" y2="684.6" style="stroke-width:1"/>
<line class="k" x1="586.6" y1="694.6" x2="586.6" y2="727.2" style="stroke-width:1"/>
<circle class="k" cx="757.6" cy="689.6" r="34" style="stroke-width:2.8;stroke:#161616"/>
<circle class="k" cx="757.6" cy="689.6" r="28.6" style="stroke-width:5.4;stroke:#181818"/>
<path class="k" d="M727.7,687.6 A30,30 0 0 1 765.6,660.7" style="stroke-width:0.7;stroke:#ddd"/>
<path class="k" d="M785.1,694.6 A28,28 0 0 1 747.6,715.8000000000001" style="stroke-width:0.6;stroke:#bbb"/>
<circle class="k" cx="757.6" cy="689.6" r="20.8" style="stroke-width:5.2;stroke:#161616"/>
<path class="k" d="M779.9,700.0 A24.6,24.6 0 0 1 762.7,713.7" style="stroke-width:2.6;stroke:#1c1c1c"/>
<circle class="k" cx="757.6" cy="689.6" r="2.8" style="stroke-width:1.5"/>
<line class="k" x1="721.2" y1="689.6" x2="739.6" y2="689.6" style="stroke-width:1"/>
<line class="k" x1="742.6" y1="689.6" x2="752.6" y2="689.6" style="stroke-width:1.2;stroke:#333"/>
<line class="k" x1="762.6" y1="689.6" x2="772.6" y2="689.6" style="stroke-width:1.2;stroke:#333"/>
<line class="k" x1="775.6" y1="689.6" x2="794.0" y2="689.6" style="stroke-width:1"/>
<line class="k" x1="757.6" y1="653.2" x2="757.6" y2="684.6" style="stroke-width:1"/>
<line class="k" x1="757.6" y1="694.6" x2="757.6" y2="727.2" style="stroke-width:1"/>
<path class="k" d="M516.2,727.0 L516.2,764.8 L526.4,764.8 A3.2,3.2 0 0 1 526.4,771.2 L517.8,771.2 L519.6,816.0 A60.6,60.6 0 0 0 579.2,877.2" style="stroke-width:1.4"/>
<path class="k" d="M529.4,741.0 C524.6,743.0 522.0,747.0 521.8,752.0 L521.8,764.8" />
<path class="k" d="M521.8,771.2 L523.0,816.0 A57.6,57.6 0 0 0 566.0,872.6" />
<path class="t" d="M522.0,822.0 A62.4,62.4 0 0 0 560.0,874.6" />
<path class="k" d="M827.8,727.0 L827.8,764.8 L817.6,764.8 A3.2,3.2 0 0 0 817.6,771.2 L826.2,771.2 L824.4,816.0 A60.6,60.6 0 0 1 764.8,877.2" style="stroke-width:1.4"/>
<path class="k" d="M814.6,741.0 C819.4,743.0 822.0,747.0 822.2,752.0 L822.2,764.8" />
<path class="k" d="M822.2,771.2 L821.0,816.0 A57.6,57.6 0 0 1 778.0,872.6" />
<path class="t" d="M822.0,822.0 A62.4,62.4 0 0 1 784.0,874.6" />
<line class="k" x1="517" y1="756.6" x2="615.6" y2="756.6" style="stroke-width:1.3"/>
<line class="k" x1="728.4" y1="756.6" x2="827" y2="756.6" style="stroke-width:1.3"/>
<line class="k" x1="579.2" y1="877.2" x2="764.8" y2="877.2" style="stroke-width:1.3"/>
<line class="k" x1="566" y1="872.6" x2="652" y2="872.6" />
<line class="k" x1="692" y1="872.6" x2="778" y2="872.6" />
<line class="k" x1="615.6" y1="740.8" x2="615.6" y2="757.4" style="stroke-width:1.4"/>
<line class="k" x1="728.4" y1="740.8" x2="728.4" y2="757.4" style="stroke-width:1.4"/>
<path class="k" d="M615.6,757.4 L621.4,757.4 C630,760 638,763.4 646,763.6 L698,763.6 C706,763.4 714,760 722.6,757.4 L728.4,757.4" style="stroke-width:1.3"/>
<path class="k" d="M626.4,743 C633,746 639,749.8 646,750.2 L698,750.2 C705,749.8 711,746 717.6,743" style="stroke-width:1.4"/>
<line class="g" x1="626" y1="742.6" x2="718" y2="742.6" style="stroke-width:2;stroke:#555"/>
<line class="k" x1="626.6" y1="744.8" x2="622.4" y2="756.6" />
<line class="k" x1="717.4" y1="744.8" x2="721.6" y2="756.6" />
<line class="k" x1="636.8" y1="749" x2="632.6" y2="760" />
<line class="k" x1="707.2" y1="749" x2="711.4" y2="760" />
<line class="k" x1="646" y1="751.4" x2="646" y2="762.6" />
<line class="k" x1="698.0" y1="751.4" x2="698.0" y2="762.6" />
<line class="t" x1="646" y1="752.4" x2="698" y2="752.4" style="stroke:#888"/>
<circle class="k" cx="579.3" cy="816.2" r="54.6" style="stroke-width:2.7;stroke:#151515"/>
<circle class="k" cx="579.3" cy="816.2" r="39.2" style="stroke-width:2.2;stroke:#151515"/>
<circle class="k" cx="579.3" cy="816.2" r="24.6" style="stroke-width:4.6;stroke:#151515"/>
<circle class="t" cx="579.3" cy="816.2" r="21.4" style="stroke-width:0.8;stroke:#444"/>
<g transform="rotate(0 579.3 816.2)">
<rect class="w" x="575.3" y="791.6" width="8.8" height="48.4" rx="0" style="stroke-width:1.2"/>
<line class="b" x1="584.0999999999999" y1="791.6" x2="584.0999999999999" y2="840.0" style="stroke-width:2"/>
<line class="t" x1="579.6999999999999" y1="794.2" x2="579.6999999999999" y2="838.2" stroke-dasharray="6 1.5 1.5 1.5"/>
<path class="w" d="M587.0,814.6 C586.3,804.8000000000001 600.3,804.8000000000001 599.5999999999999,814.6 C599.3,818.8000000000001 595.6999999999999,820.8000000000001 595.6999999999999,824.2 L595.6999999999999,835.8000000000001 L589.6999999999999,835.8000000000001 L589.6999999999999,824.2 C589.6999999999999,820.8000000000001 587.3,818.8000000000001 587.0,814.6 Z" style="stroke-width:2.4;stroke:#151515"/>
<path class="k" d="M589.5,813.2 C589.5,808.6 597.0999999999999,808.6 597.0999999999999,813.2" style="stroke-width:1.6;stroke:#222"/>
<line class="k" x1="588.6999999999999" y1="814.8000000000001" x2="597.9" y2="814.8000000000001" style="stroke-width:2;stroke:#222"/>
<line class="k" x1="589.0999999999999" y1="817.8000000000001" x2="597.5" y2="817.8000000000001" style="stroke-width:1.2;stroke:#444"/>
<line class="k" x1="591.6999999999999" y1="817.2" x2="591.6999999999999" y2="835.2" style="stroke-width:1.2"/>
<line class="k" x1="593.6999999999999" y1="817.2" x2="593.6999999999999" y2="835.2" style="stroke-width:1.2"/>
<rect class="f" x="590.5" y="837.8000000000001" width="4" height="5.6" rx="0" />
</g>
<line class="k" x1="521.3" y1="816.2" x2="637.3" y2="816.2" stroke-dasharray="10 2 3 2" style="stroke-width:1.1"/>
<line class="k" x1="579.3" y1="758.2" x2="579.3" y2="874.2" stroke-dasharray="9 2 2 2" style="stroke-width:1"/>
<circle class="k" cx="764.6" cy="816.2" r="54.6" style="stroke-width:2.7;stroke:#151515"/>
<circle class="k" cx="764.6" cy="816.2" r="39.2" style="stroke-width:2.2;stroke:#151515"/>
<circle class="k" cx="764.6" cy="816.2" r="24.6" style="stroke-width:4.6;stroke:#151515"/>
<circle class="t" cx="764.6" cy="816.2" r="21.4" style="stroke-width:0.8;stroke:#444"/>
<g transform="rotate(180 764.6 816.2)">
<rect class="w" x="760.6" y="791.6" width="8.8" height="48.4" rx="0" style="stroke-width:1.2"/>
<line class="b" x1="769.4" y1="791.6" x2="769.4" y2="840.0" style="stroke-width:2"/>
<line class="t" x1="765.0" y1="794.2" x2="765.0" y2="838.2" stroke-dasharray="6 1.5 1.5 1.5"/>
<path class="w" d="M772.3000000000001,814.6 C771.6,804.8000000000001 785.6,804.8000000000001 784.9,814.6 C784.6,818.8000000000001 781.0,820.8000000000001 781.0,824.2 L781.0,835.8000000000001 L775.0,835.8000000000001 L775.0,824.2 C775.0,820.8000000000001 772.6,818.8000000000001 772.3000000000001,814.6 Z" style="stroke-width:2.4;stroke:#151515"/>
<path class="k" d="M774.8000000000001,813.2 C774.8000000000001,808.6 782.4,808.6 782.4,813.2" style="stroke-width:1.6;stroke:#222"/>
<line class="k" x1="774.0" y1="814.8000000000001" x2="783.2" y2="814.8000000000001" style="stroke-width:2;stroke:#222"/>
<line class="k" x1="774.4" y1="817.8000000000001" x2="782.8000000000001" y2="817.8000000000001" style="stroke-width:1.2;stroke:#444"/>
<line class="k" x1="777.0" y1="817.2" x2="777.0" y2="835.2" style="stroke-width:1.2"/>
<line class="k" x1="779.0" y1="817.2" x2="779.0" y2="835.2" style="stroke-width:1.2"/>
<rect class="f" x="775.8000000000001" y="837.8000000000001" width="4" height="5.6" rx="0" />
</g>
<line class="k" x1="706.6" y1="816.2" x2="822.6" y2="816.2" stroke-dasharray="10 2 3 2" style="stroke-width:1.1"/>
<line class="k" x1="764.6" y1="758.2" x2="764.6" y2="874.2" stroke-dasharray="9 2 2 2" style="stroke-width:1"/>
<ellipse class="k" cx="672.2" cy="814" rx="34.4" ry="49" style="stroke-width:2;fill:#fff"/>
<ellipse class="k" cx="672.2" cy="865.6" rx="17.8" ry="8.2" style="stroke-width:3.6;fill:#fff;stroke:#111"/>
<ellipse class="k" cx="672.2" cy="813" rx="30.4" ry="38" style="stroke-width:6.4;stroke:#141414"/>
<ellipse class="k" cx="672.2" cy="813" rx="30.6" ry="38.2" style="stroke-width:2.4;stroke:#fff" stroke-dasharray="2.2 4.6"/>
<ellipse class="k" cx="672.2" cy="813" rx="33.6" ry="41.4" style="stroke-width:1.2;stroke:#141414" stroke-dasharray="4 2.6"/>
<ellipse class="k" cx="672.2" cy="814.5" rx="26" ry="32.4" style="stroke-width:3;stroke:#141414" stroke-dasharray="3 3.2"/>
<ellipse class="k" cx="672.2" cy="816.5" rx="20.4" ry="23.6" style="stroke-width:9;stroke:#121212;fill:#fff"/>
<ellipse class="k" cx="672.2" cy="816.5" rx="21.4" ry="25.2" style="stroke-width:1.8;stroke:#fff" stroke-dasharray="2.2 6.6"/>
<ellipse class="k" cx="672.2" cy="816.5" rx="16.4" ry="18.4" style="stroke-width:1.2;stroke:#000;fill:#fff"/>
<path class="k" d="M661.8000000000001,806.8 Q672.2,797.6 682.6,806.8 Z" style="stroke-width:1.2"/>
<path class="k" d="M661.8000000000001,826 Q672.2,835.2 682.6,826 Z" style="stroke-width:1.2"/>
<rect class="f" x="661.6" y="808.6" width="21.2" height="3" rx="0" style="fill:#1c1c1c"/>
<rect class="f" x="661.6" y="821" width="21.2" height="3" rx="0" style="fill:#1c1c1c"/>
<rect class="w" x="657.2" y="813.4" width="30" height="4.6" rx="1.4" style="stroke-width:1.5;stroke:#111;fill:#bbb"/>
<line class="g" x1="659.2" y1="815.7" x2="685.2" y2="815.7" style="stroke-width:1.6;stroke:#333"/>
<rect class="f" x="657.8000000000001" y="803.8" width="3.6" height="4.4" rx="0.8" style="fill:#222"/>
<rect class="f" x="657.8000000000001" y="824.6" width="3.6" height="4.4" rx="0.8" style="fill:#222"/>
<line class="k" x1="659.6" y1="808" x2="659.6" y2="824" style="stroke-width:1.4"/>
<rect class="f" x="683.0000000000001" y="803.8" width="3.6" height="4.4" rx="0.8" style="fill:#222"/>
<rect class="f" x="683.0000000000001" y="824.6" width="3.6" height="4.4" rx="0.8" style="fill:#222"/>
<line class="k" x1="684.8000000000001" y1="808" x2="684.8000000000001" y2="824" style="stroke-width:1.4"/>
<rect class="f" x="660.8000000000001" y="767.6" width="5.2" height="5.6" rx="1" />
<rect class="f" x="678.4" y="767.6" width="5.2" height="5.6" rx="1" />
<circle class="f" cx="652.2" cy="778.4" r="3.4" />
<circle class="f" cx="692.2" cy="778.4" r="3.4" />
<circle class="f" cx="651.2" cy="852" r="3.4" />
<circle class="f" cx="693.2" cy="852" r="3.4" />
<line class="b" x1="652.2" y1="778.4" x2="657.2" y2="786" style="stroke-width:3"/>
<line class="b" x1="692.2" y1="778.4" x2="687.2" y2="786" style="stroke-width:3"/>
<path class="k" d="M655.2,856.4 Q672.2,851 689.2,856.4" style="stroke-width:4.4;stroke:#141414"/>
<path class="k" d="M656.6,856.2 Q672.2,851 687.8000000000001,856.2" style="stroke-width:2.2;stroke:#fff" stroke-dasharray="3.6 2.4"/>
<path class="k" d="M653.2,852 C653.2,862 654.6,866 654.6,866" style="stroke-width:1.6"/>
<path class="k" d="M691.2,852 C691.2,862 689.8000000000001,866 689.8000000000001,866" style="stroke-width:1.6"/>
</g>
<g id="dims">
<line class="d" x1="368" y1="226.6" x2="407" y2="226.6" style="stroke-width:1"/>
<line class="d" x1="352" y1="386.6" x2="407" y2="386.6" style="stroke-width:1.2"/>
<line class="d" x1="403" y1="228" x2="403" y2="385" style="stroke-width:1.9"/>
<polygon points="403.0,226.8 405.6,237.8 400.4,237.8" fill="#151515"/>
<polygon points="403.0,386.4 400.4,375.4 405.6,375.4" fill="#151515"/>
<text x="0" y="0" text-anchor="middle" transform="translate(388.4 306.4) scale(-1 1) rotate(-90)" >448</text>
<line class="d" x1="475" y1="387" x2="921" y2="387" style="stroke-width:1.5"/>
<line class="d" x1="475" y1="88.4" x2="551" y2="88.4" style="stroke-width:1.1"/>
<line class="d" x1="481.8" y1="90" x2="481.8" y2="386" style="stroke-width:1.2"/>
<polygon points="481.8,88.8 484.6,98.8 479.0,98.8" fill="#222"/>
<polygon points="481.8,386.6 479.0,376.6 484.6,376.6" fill="#222"/>
<text x="476.8" y="240.2" text-anchor="middle" transform="rotate(-90 476.8 240.2)" >837</text>
<line class="d" x1="810.4" y1="94.5" x2="921" y2="94.5" style="stroke-width:1.1"/>
<line class="d" x1="917" y1="96" x2="917" y2="386" style="stroke-width:1"/>
<polygon points="917.0,94.8 919.8,104.8 914.2,104.8" fill="#222"/>
<polygon points="917.0,386.6 914.2,376.6 919.8,376.6" fill="#222"/>
<text x="913.4" y="239.6" text-anchor="middle" transform="rotate(-90 913.4 239.6)" >820</text>
<line class="d" x1="646.3" y1="243.6" x2="706" y2="243.6" style="stroke-width:1.1"/>
<line class="d" x1="706" y1="243.7" x2="887.5" y2="243.7" style="stroke-width:1.7;stroke:#6a6a6a"/>
<line class="d" x1="884.6" y1="245" x2="884.6" y2="386" style="stroke-width:1.9"/>
<polygon points="884.6,244.0 887.4,254.0 881.8,254.0" fill="#151515"/>
<polygon points="884.6,386.6 881.8,376.6 887.4,376.6" fill="#151515"/>
<text x="880" y="317" text-anchor="middle" transform="rotate(-90 880 317)" >403</text>
<line class="d" x1="828" y1="373" x2="862.5" y2="373" style="stroke-width:1.5;stroke:#777"/>
<line class="g" x1="858.8" y1="352.5" x2="858.8" y2="416" style="stroke-width:2.3;stroke:#777"/>
<polygon points="858.8,372.8 856.0,362.8 861.6,362.8" fill="#222"/>
<polygon points="858.8,387.4 861.6,397.4 856.0,397.4" fill="#222"/>
<text x="855" y="405.6" text-anchor="middle" transform="rotate(-90 855 405.6)" >40</text>
<line class="g" x1="671.6" y1="367" x2="671.6" y2="411" style="stroke-width:2.4;stroke:#666"/>
<line class="d" x1="827.6" y1="322" x2="827.6" y2="411" style="stroke-width:2;stroke:#2a2a2a"/>
<line class="d" x1="674" y1="407.5" x2="826" y2="407.5" style="stroke-width:1.2"/>
<polygon points="672.8,407.5 682.8,405.1 682.8,409.9" fill="#222"/>
<polygon points="827.4,407.5 817.4,409.9 817.4,405.1" fill="#222"/>
<text x="751" y="402.4" text-anchor="middle" >439</text>
<line class="d" x1="630.4" y1="428" x2="663.6" y2="383.6" style="stroke-width:1.2"/>
<polygon points="664.4,382.6 661.7,390.6 657.5,387.4" fill="#151515"/>
<text x="632.8" y="412" text-anchor="middle" transform="rotate(-53.2 632.8 412)" >Ø50</text>
<circle class="d" cx="672" cy="686" r="219.5" stroke-dasharray="12 3.5 2 3.5" style="stroke-width:1.35;stroke:#111"/>
<line class="g" x1="515.6" y1="450" x2="515.6" y2="765" style="stroke-width:2.4;stroke:#5a5a5a"/>
<line class="g" x1="828.4" y1="450" x2="828.4" y2="903.6" style="stroke-width:2.4;stroke:#5a5a5a"/>
<line class="d" x1="516.3" y1="613" x2="516.3" y2="765" style="stroke-width:1.7;stroke:#1a1a1a"/>
<line class="d" x1="827.7" y1="613" x2="827.7" y2="765" style="stroke-width:1.7;stroke:#1a1a1a"/>
<line class="d" x1="518" y1="453.5" x2="826" y2="453.5" style="stroke-width:1.1"/>
<polygon points="516.8,453.5 526.8,451.1 526.8,455.9" fill="#222"/>
<polygon points="827.2,453.5 817.2,455.9 817.2,451.1" fill="#222"/>
<text x="673.8" y="449.6" text-anchor="middle" >877</text>
<line class="d" x1="797" y1="483.4" x2="797" y2="637.6" style="stroke-width:1.9;stroke:#111"/>
<line class="d" x1="800" y1="486.5" x2="826" y2="486.5" style="stroke-width:1.6"/>
<polygon points="797.6,486.5 807.6,483.9 807.6,489.1" fill="#151515"/>
<polygon points="827.2,486.5 817.2,489.1 817.2,483.9" fill="#151515"/>
<text x="813.6" y="482" text-anchor="middle" >88</text>
<line class="d" x1="664" y1="512.2" x2="923" y2="512.2" style="stroke-width:2.1;stroke:#111"/>
<line class="d" x1="797" y1="638" x2="888" y2="638" style="stroke-width:1.1"/>
<line class="d" x1="885" y1="514" x2="885" y2="636" style="stroke-width:1.4"/>
<polygon points="885.0,513.2 887.8,523.2 882.2,523.2" fill="#151515"/>
<polygon points="885.0,637.6 882.2,627.6 887.8,627.6" fill="#151515"/>
<text x="881" y="573.6" text-anchor="middle" transform="rotate(-90 881 573.6)" >353</text>
<line class="d" x1="764.6" y1="877.5" x2="923" y2="877.5" style="stroke-width:1.2"/>
<line class="d" x1="918" y1="514" x2="918" y2="876" style="stroke-width:1.4"/>
<polygon points="918.0,513.2 920.8,523.2 915.2,523.2" fill="#151515"/>
<polygon points="918.0,877.2 915.2,867.2 920.8,867.2" fill="#151515"/>
<text x="912.6" y="692.6" text-anchor="middle" transform="rotate(-90 912.6 692.6)" >1025</text>
<line class="d" x1="764.6" y1="816.25" x2="857" y2="816.25" style="stroke-width:1.1"/>
<line class="d" x1="637.6" y1="816.2" x2="706.8" y2="816.2" style="stroke-width:1.2"/>
<line class="d" x1="853" y1="818" x2="853" y2="876" style="stroke-width:1.9"/>
<polygon points="853.0,816.6 855.8,826.6 850.2,826.6" fill="#151515"/>
<polygon points="853.0,877.2 850.2,867.2 855.8,867.2" fill="#151515"/>
<text x="849.4" y="840.2" text-anchor="middle" transform="rotate(-90 849.4 840.2)" >172</text>
<line class="d" x1="672" y1="765" x2="672" y2="905" style="stroke-width:1.9;stroke:#111"/>
<line class="g" x1="676" y1="900.6" x2="826" y2="900.6" style="stroke-width:2.6;stroke:#555"/>
<polygon points="672.8,900.6 682.8,898.0 682.8,903.2" fill="#222"/>
<polygon points="827.2,900.6 817.2,903.2 817.2,898.0" fill="#222"/>
<text x="772" y="897" text-anchor="middle" >438</text>
<circle class="d" cx="797" cy="637.6" r="13.6" style="stroke-width:4.4;stroke:#2c2c2c;fill:none"/>
<circle class="d" cx="797" cy="637.6" r="13.6" style="stroke-width:0.8;stroke:#888;fill:none"/>
<line class="d" x1="812.5" y1="647.8" x2="857.5" y2="676" style="stroke-width:1.2"/>
<polygon points="810.6,646.6 819.6,649.2 816.9,653.6" fill="#151515"/>
<text x="848.6" y="662.4" text-anchor="middle" transform="rotate(33 848.6 662.4)" >Ø75</text>
<line class="d" x1="471" y1="462.4" x2="524" y2="520" style="stroke-width:1.1"/>
<polygon points="525.6,521.6 517.7,516.6 521.3,513.4" fill="#151515"/>
<text x="499.4" y="480.9" text-anchor="middle" transform="rotate(50.7 499.4 480.9)" style="letter-spacing:0;font-size:14px">Ø1230</text>
<text x="572.4" y="909.6" style="font-size:14px;letter-spacing:0">DN80</text>
<line class="d" x1="576" y1="913" x2="610" y2="913" style="stroke-width:1.3"/>
<line class="d" x1="610" y1="913" x2="640.6" y2="851.4" style="stroke-width:1.1"/>
<polygon points="641.4,849.6 640.0,857.8 635.7,855.7" fill="#151515"/>
</g>
</svg>
</body></html>
